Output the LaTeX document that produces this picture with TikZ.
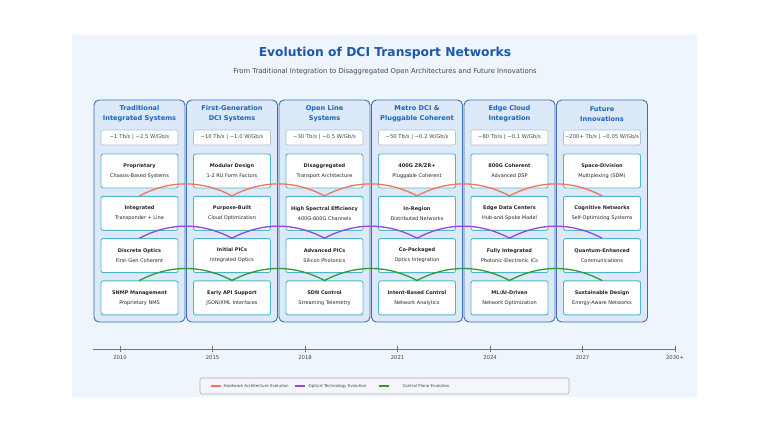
\documentclass[tikz,border=0pt]{standalone}
\usepackage{fontspec}
\setmainfont{DejaVu Sans}
\usetikzlibrary{positioning, calc}

\definecolor{panelbg}{HTML}{EEF5FD}
\definecolor{erafill}{HTML}{DCE9F8}
\definecolor{eraline}{HTML}{3F6DB3}
\definecolor{headblue}{HTML}{1D62C0}
\definecolor{titleblue}{HTML}{1B58AB}
\definecolor{cardline}{HTML}{4DB6C8}
\definecolor{perfline}{HTML}{B4BEC8}
\definecolor{hwred}{HTML}{EE7560}
\definecolor{optpurple}{HTML}{9646E0}
\definecolor{ctlgreen}{HTML}{2E9A3C}
\definecolor{axisgray}{HTML}{6E7780}
\definecolor{textgray}{HTML}{444444}
\definecolor{legfill}{HTML}{F4F6F9}
\definecolor{legline}{HTML}{A8B0B8}

\begin{document}
\begin{tikzpicture}[
    x=1pt, y=-1pt,
    panel/.style={fill=panelbg, minimum width=625pt, minimum height=362pt, inner sep=0pt},
    maintitle/.style={font=\fontsize{12.3}{14}\selectfont\bfseries, text=titleblue},
    subtitle/.style={font=\fontsize{6.8}{8}\selectfont, text=textgray},
    era/.style={draw=eraline, fill=erafill, line width=0.9pt, rounded corners=5pt, minimum width=91pt, minimum height=222pt, inner sep=0pt},
    eratitle/.style={align=center, font=\fontsize{6.6}{10}\selectfont\bfseries, text=headblue, inner sep=0pt},
    perfbox/.style={draw=perfline, fill=white, line width=0.6pt, rounded corners=2pt, minimum width=77pt, minimum height=15pt, inner sep=0pt, font=\fontsize{5.3}{6}\selectfont, text=textgray},
    card/.style={draw=cardline, fill=white, line width=0.9pt, rounded corners=2pt, minimum width=77pt, minimum height=34pt, inner sep=0pt, align=center, font=\fontsize{5}{10}\selectfont, text=black!85},
    evowave/.style={line width=1.3pt, line cap=round},
    hwwave/.style={evowave, draw=hwred},
    optwave/.style={evowave, draw=optpurple},
    ctlwave/.style={evowave, draw=ctlgreen},
    timeaxis/.style={draw=axisgray, line width=1.2pt},
    yeartick/.style={draw=axisgray, line width=0.9pt},
    yearlbl/.style={font=\fontsize{5.3}{6}\selectfont, text=textgray, inner sep=0pt},
    legbox/.style={draw=legline, fill=legfill, line width=0.6pt, rounded corners=2pt, minimum width=369pt, minimum height=16pt, inner sep=0pt},
    legtxt/.style={font=\fontsize{4}{5}\selectfont, text=textgray, inner sep=0.5pt, anchor=west}
]
\useasboundingbox (0,0) rectangle (768,432);
\fill[white] (0,0) rectangle (768,432);

% ==========================================
% Background & headings
% ==========================================
\node[panel] (bg) at (384.5,216) {};
\node[maintitle] (title) at (385,53) {Evolution of DCI Transport Networks};
\node[subtitle] (subtitle) at (385,72) {From Traditional Integration to Disaggregated Open Architectures and Future Innovations};

% ==========================================
% Era columns
% ==========================================
\node[era] (era1) at (139.5,211) {};
\node[era] (era2) at (232,211) {};
\node[era] (era3) at (324.5,211) {};
\node[era] (era4) at (417,211) {};
\node[era] (era5) at (509.5,211) {};
\node[era] (era6) at (602,211) {};

% Column titles
\node[eratitle] (head1) at (139.5,114) {Traditional\\Integrated Systems};
\node[eratitle] (head2) at (232,114) {First-Generation\\DCI Systems};
\node[eratitle] (head3) at (324.5,114) {Open Line\\Systems};
\node[eratitle] (head4) at (417,114) {Metro DCI \&\\Pluggable Coherent};
\node[eratitle] (head5) at (509.5,114) {Edge Cloud\\Integration};
\node[eratitle] (head6) at (602,114) {Future\\Innovations};

% Capacity / power figures
\node[perfbox] (perf1) at (139.5,137.5) {\textasciitilde1 Tb/s | \textasciitilde2.5 W/Gb/s};
\node[perfbox] (perf2) at (232,137.5) {\textasciitilde10 Tb/s | \textasciitilde1.0 W/Gb/s};
\node[perfbox] (perf3) at (324.5,137.5) {\textasciitilde30 Tb/s | \textasciitilde0.5 W/Gb/s};
\node[perfbox] (perf4) at (417,137.5) {\textasciitilde50 Tb/s | \textasciitilde0.2 W/Gb/s};
\node[perfbox] (perf5) at (509.5,137.5) {\textasciitilde80 Tb/s | \textasciitilde0.1 W/Gb/s};
\node[perfbox] (perf6) at (602,137.5) {\textasciitilde200+ Tb/s | \textasciitilde0.05 W/Gb/s};

% Row 1: architecture
\node[card] (arch1) at (139.5,171) {\textbf{Proprietary}\\Chassis-Based Systems};
\node[card] (arch2) at (232,171) {\textbf{Modular Design}\\1-2 RU Form Factors};
\node[card] (arch3) at (324.5,171) {\textbf{Disaggregated}\\Transport Architecture};
\node[card] (arch4) at (417,171) {\textbf{400G ZR/ZR+}\\Pluggable Coherent};
\node[card] (arch5) at (509.5,171) {\textbf{800G Coherent}\\Advanced DSP};
\node[card] (arch6) at (602,171) {\textbf{Space-Division}\\Multiplexing (SDM)};

% Row 2: system
\node[card] (sys1) at (139.5,213.3) {\textbf{Integrated}\\Transponder + Line};
\node[card] (sys2) at (232,213.3) {\textbf{Purpose-Built}\\Cloud Optimization};
\node[card] (sys3) at (324.5,213.3) {\textbf{High Spectral Efficiency}\\400G-600G Channels};
\node[card] (sys4) at (417,213.3) {\textbf{In-Region}\\Distributed Networks};
\node[card] (sys5) at (509.5,213.3) {\textbf{Edge Data Centers}\\Hub-and-Spoke Model};
\node[card] (sys6) at (602,213.3) {\textbf{Cognitive Networks}\\Self-Optimizing Systems};

% Row 3: optics
\node[card] (opt1) at (139.5,255.6) {\textbf{Discrete Optics}\\First-Gen Coherent};
\node[card] (opt2) at (232,255.6) {\textbf{Initial PICs}\\Integrated Optics};
\node[card] (opt3) at (324.5,255.6) {\textbf{Advanced PICs}\\Silicon Photonics};
\node[card] (opt4) at (417,255.6) {\textbf{Co-Packaged}\\Optics Integration};
\node[card] (opt5) at (509.5,255.6) {\textbf{Fully Integrated}\\Photonic-Electronic ICs};
\node[card] (opt6) at (602,255.6) {\textbf{Quantum-Enhanced}\\Communications};

% Row 4: control
\node[card] (ctl1) at (139.5,297.9) {\textbf{SNMP Management}\\Proprietary NMS};
\node[card] (ctl2) at (232,297.9) {\textbf{Early API Support}\\JSON/XML Interfaces};
\node[card] (ctl3) at (324.5,297.9) {\textbf{SDN Control}\\Streaming Telemetry};
\node[card] (ctl4) at (417,297.9) {\textbf{Intent-Based Control}\\Network Analytics};
\node[card] (ctl5) at (509.5,297.9) {\textbf{ML/AI-Driven}\\Network Optimization};
\node[card] (ctl6) at (602,297.9) {\textbf{Sustainable Design}\\Energy-Aware Networks};

% ==========================================
% Evolution waves
% ==========================================
\draw[hwwave] (sys1.north) .. controls +(30.8,-16) and +(-30.8,-16) .. (sys2.north)
    .. controls +(30.8,-16) and +(-30.8,-16) .. (sys3.north)
    .. controls +(30.8,-16) and +(-30.8,-16) .. (sys4.north)
    .. controls +(30.8,-16) and +(-30.8,-16) .. (sys5.north)
    .. controls +(30.8,-16) and +(-30.8,-16) .. (sys6.north);
\draw[optwave] (opt1.north) .. controls +(30.8,-16) and +(-30.8,-16) .. (opt2.north)
    .. controls +(30.8,-16) and +(-30.8,-16) .. (opt3.north)
    .. controls +(30.8,-16) and +(-30.8,-16) .. (opt4.north)
    .. controls +(30.8,-16) and +(-30.8,-16) .. (opt5.north)
    .. controls +(30.8,-16) and +(-30.8,-16) .. (opt6.north);
\draw[ctlwave] (ctl1.north) .. controls +(30.8,-16) and +(-30.8,-16) .. (ctl2.north)
    .. controls +(30.8,-16) and +(-30.8,-16) .. (ctl3.north)
    .. controls +(30.8,-16) and +(-30.8,-16) .. (ctl4.north)
    .. controls +(30.8,-16) and +(-30.8,-16) .. (ctl5.north)
    .. controls +(30.8,-16) and +(-30.8,-16) .. (ctl6.north);

% ==========================================
% Timeline
% ==========================================
\coordinate (tl_start) at (93,349.5);
\coordinate (tl_end) at (675,349.5);
\draw[timeaxis] (tl_start) -- (tl_end);

\node[yearlbl] (y2010) at (120,357.5) {2010};
\node[yearlbl] (y2015) at (212.5,357.5) {2015};
\node[yearlbl] (y2018) at (305,357.5) {2018};
\node[yearlbl] (y2021) at (397.5,357.5) {2021};
\node[yearlbl] (y2024) at (490,357.5) {2024};
\node[yearlbl] (y2027) at (582.5,357.5) {2027};
\node[yearlbl] (y2030) at (675,357.5) {2030+};
\draw[yeartick] ([yshift=3pt]y2010.north) -- ([yshift=9pt]y2010.north);
\draw[yeartick] ([yshift=3pt]y2015.north) -- ([yshift=9pt]y2015.north);
\draw[yeartick] ([yshift=3pt]y2018.north) -- ([yshift=9pt]y2018.north);
\draw[yeartick] ([yshift=3pt]y2021.north) -- ([yshift=9pt]y2021.north);
\draw[yeartick] ([yshift=3pt]y2024.north) -- ([yshift=9pt]y2024.north);
\draw[yeartick] ([yshift=3pt]y2027.north) -- ([yshift=9pt]y2027.north);
\draw[yeartick] ([yshift=3pt]y2030.north) -- ([yshift=9pt]y2030.north);

% ==========================================
% Legend
% ==========================================
\node[legbox] (legend) at (384.5,386) {};
\node[legtxt] (leg_hw) at (223,386) {Hardware Architecture Evolution};
\node[legtxt] (leg_opt) at (308,386) {Optical Technology Evolution};
\node[legtxt] (leg_ctl) at (402,386) {Control Plane Evolution};
\draw[hwwave, line cap=butt] ([xshift=-12pt]leg_hw.west) -- ([xshift=-2pt]leg_hw.west);
\draw[optwave, line cap=butt] ([xshift=-13pt]leg_opt.west) -- ([xshift=-3pt]leg_opt.west);
\draw[ctlwave, line cap=butt] ([xshift=-23pt]leg_ctl.west) -- ([xshift=-13pt]leg_ctl.west);

\end{tikzpicture}
\end{document}
